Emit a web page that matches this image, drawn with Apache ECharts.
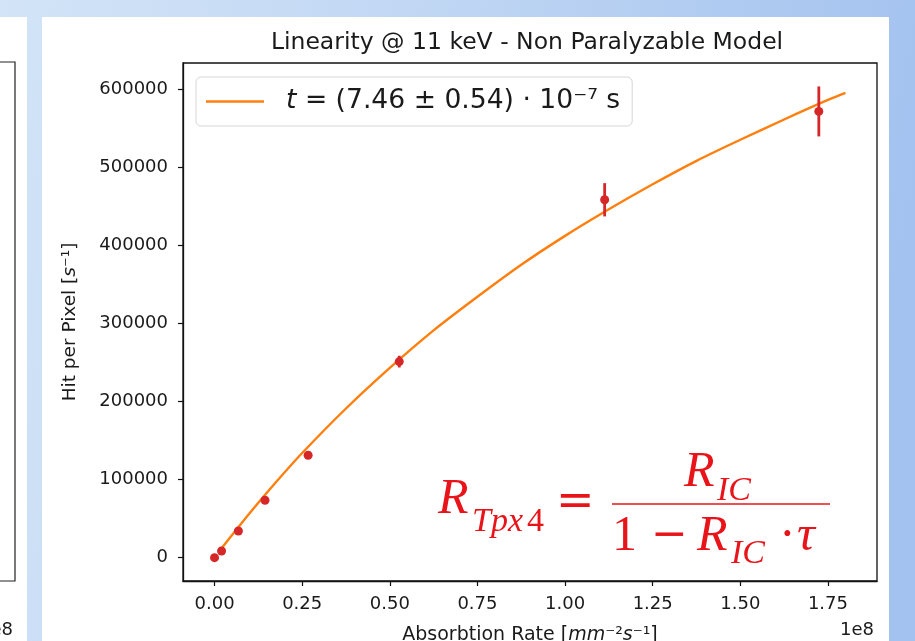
<!DOCTYPE html>
<html><head><meta charset="utf-8">
<script src="https://cdn.jsdelivr.net/npm/echarts@6/dist/echarts.min.js"></script>
<style>
html,body{margin:0;padding:0;width:915px;height:641px;overflow:hidden;background:#b8d0f1;}
#c{width:915px;height:641px;}
</style>
</head><body><div id="c"></div>
<script>
// Tick labels
const xTicks = [0, 0.25, 0.5, 0.75, 1.0, 1.25, 1.5, 1.75];          // ×1e8
const yTicks = [0, 100000, 200000, 300000, 400000, 500000, 600000];
// Measured points (absorption rate in units of 1e8 mm^-2 s^-1)
const absorptionRate = [0.0, 0.020, 0.068, 0.144, 0.267, 0.527, 1.113, 1.724];
const hitRate        = [0, 8600, 34200, 73500, 131200, 251000, 458200, 571300];
const hitErr         = [800, 1200, 2000, 3000, 4500, 7500, 21300, 32000];
// Fit curve
const fitX = [0.02, 0.05, 0.10, 0.175, 0.25, 0.375, 0.50, 0.625, 0.75, 0.875, 1.00, 1.125, 1.25, 1.375, 1.50, 1.625, 1.75, 1.80];
const fitY = [12000, 29000, 57000, 96500, 134000, 191000, 243000, 291000, 334000, 375000, 412000, 446000, 478000, 508000, 535000, 561000, 586000, 595000];
const legendLabel = 't = (7.46 ± 0.54) · 10⁻⁷ s';

const chart = echarts.init(document.getElementById('c'), null, {renderer: 'canvas'});
const FONT = 'DejaVu Sans';
const RED = '#e8141a';
const INK = '#1a1a1a';

const option = {
  animation: false,
  backgroundColor: 'transparent',
  graphic: [
    {type: 'rect', z: -100, shape: {x: 0, y: 0, width: 915, height: 641},
     style: {fill: new echarts.graphic.LinearGradient(0, 0, 1, 0.3, [
       {offset: 0, color: '#d3e4f7'}, {offset: 0.5, color: '#bed5f3'}, {offset: 1, color: '#a3c2ef'}])}},
    {type: 'rect', z: -99, shape: {x: 0, y: 17, width: 27, height: 624}, style: {fill: '#ffffff'}},
    {type: 'rect', z: -99, shape: {x: 42, y: 17, width: 847, height: 624}, style: {fill: '#ffffff'}},
    {type: 'polyline', z: -98, shape: {points: [[0, 62], [15, 62], [15, 581], [0, 581]]},
     style: {stroke: '#222', lineWidth: 1.2, fill: null}},
    {type: 'text', z: 10, x: 13, y: 630, style: {text: '1e8', font: '18px "DejaVu Sans"', fill: INK, textAlign: 'right', textVerticalAlign: 'middle'}},
    {type: 'text', z: 10, x: 527, y: 43, style: {text: 'Linearity @ 11 keV - Non Paralyzable Model', font: '23.5px "DejaVu Sans"', fill: INK, textAlign: 'center', textVerticalAlign: 'middle'}},
    {type: 'text', z: 10, x: 874, y: 630, style: {text: '1e8', font: '18px "DejaVu Sans"', fill: INK, textAlign: 'right', textVerticalAlign: 'middle'}},
    // equation annotation
    {type: 'text', z: 10, x: 438, y: 500, style: {text: 'R', font: 'italic 50px "Liberation Serif"', fill: RED, textVerticalAlign: 'middle'}},
    {type: 'text', z: 10, x: 472, y: 522, style: {text: 'Tpx', font: 'italic 34px "Liberation Serif"', fill: RED, textVerticalAlign: 'middle'}},
    {type: 'text', z: 10, x: 527, y: 522, style: {text: '4', font: '34px "Liberation Serif"', fill: RED, textVerticalAlign: 'middle'}},
    {type: 'text', z: 10, x: 556, y: 503, style: {text: '=', font: '46px "DejaVu Serif"', fill: RED, textVerticalAlign: 'middle'}},
    {type: 'line', z: 10, shape: {x1: 612, y1: 504, x2: 830, y2: 504}, style: {stroke: RED, lineWidth: 1.6}},
    {type: 'text', z: 10, x: 684, y: 473, style: {text: 'R', font: 'italic 50px "Liberation Serif"', fill: RED, textVerticalAlign: 'middle'}},
    {type: 'text', z: 10, x: 717, y: 491, style: {text: 'IC', font: 'italic 34px "Liberation Serif"', fill: RED, textVerticalAlign: 'middle'}},
    {type: 'text', z: 10, x: 612, y: 537, style: {text: '1', font: '50px "Liberation Serif"', fill: RED, textVerticalAlign: 'middle'}},
    {type: 'text', z: 10, x: 651, y: 537, style: {text: '−', font: '44px "DejaVu Serif"', fill: RED, textVerticalAlign: 'middle'}},
    {type: 'text', z: 10, x: 697, y: 537, style: {text: 'R', font: 'italic 50px "Liberation Serif"', fill: RED, textVerticalAlign: 'middle'}},
    {type: 'text', z: 10, x: 731, y: 554, style: {text: 'IC', font: 'italic 34px "Liberation Serif"', fill: RED, textVerticalAlign: 'middle'}},
    {type: 'text', z: 10, x: 779, y: 537, style: {text: '·', font: '50px "Liberation Serif"', fill: RED, textVerticalAlign: 'middle'}},
    {type: 'text', z: 10, x: 797, y: 537, style: {text: 'τ', font: 'italic 50px "Liberation Serif"', fill: RED, textVerticalAlign: 'middle'}}
  ],
  grid: {left: 183, right: 38, top: 63, bottom: 60, show: true, backgroundColor: '#fff',
         borderColor: '#111', borderWidth: 1.3, containLabel: false, outerBoundsMode: 'none'},
  legend: {
    left: 196, top: 77, icon: 'rect', itemWidth: 58, itemHeight: 2.5,
    padding: [11, 12, 11, 10], backgroundColor: '#fff', borderColor: '#d6d6d6', borderWidth: 1, borderRadius: 5,
    data: ['fit'],
    formatter: () => '{p|}{it|t}{n|' + legendLabel.slice(1) + '}',
    textStyle: {fontFamily: FONT, fontSize: 26.6, color: INK,
      rich: {p: {width: 17}, it: {fontStyle: 'italic', fontFamily: FONT, fontSize: 26.6, color: INK},
             n: {fontFamily: FONT, fontSize: 26.6, color: INK}}}
  },
  xAxis: {
    type: 'value', min: -0.09, max: 1.89,
    name: '{n|Absorbtion Rate [}{i|mm}{n|⁻²}{i|s}{n|⁻¹]}', nameLocation: 'middle', nameGap: 45,
    nameTextStyle: {fontFamily: FONT, fontSize: 19, color: INK,
      rich: {n: {fontFamily: FONT, fontSize: 19, color: INK}, i: {fontFamily: FONT, fontStyle: 'italic', fontSize: 19, color: INK}}},
    axisLine: {show: true, onZero: false, lineStyle: {color: '#111', width: 1.3}},
    axisTick: {show: true, length: 5, customValues: xTicks, lineStyle: {color: '#111', width: 1.2}},
    axisLabel: {customValues: xTicks, formatter: v => v.toFixed(2), fontFamily: FONT, fontSize: 18, color: INK, margin: 14},
    splitLine: {show: false}
  },
  yAxis: {
    type: 'value', min: -29850, max: 633300,
    name: '{n|Hit per Pixel [}{i|s}{n|⁻¹]}', nameLocation: 'middle', nameGap: 103,
    nameTextStyle: {fontFamily: FONT, fontSize: 18.5, color: INK,
      rich: {n: {fontFamily: FONT, fontSize: 18.5, color: INK}, i: {fontFamily: FONT, fontStyle: 'italic', fontSize: 18.5, color: INK}}},
    axisLine: {show: true, onZero: false, lineStyle: {color: '#111', width: 1.3}},
    axisTick: {show: true, length: 5, customValues: yTicks, lineStyle: {color: '#111', width: 1.2}},
    axisLabel: {customValues: yTicks, formatter: v => String(v), fontFamily: FONT, fontSize: 18, color: INK, margin: 15},
    splitLine: {show: false}
  },
  series: [
    {name: 'fit', type: 'line', data: fitX.map((x, i) => [x, fitY[i]]), smooth: 0.3, showSymbol: false,
     lineStyle: {color: '#ff7f0e', width: 2.4}, itemStyle: {color: '#ff7f0e'}, z: 2},
    {name: 'errors', type: 'custom', z: 3,
     data: absorptionRate.map((x, i) => [x, hitRate[i], hitErr[i]]),
     renderItem: (params, api) => {
       const x = api.value(0), y = api.value(1), e = api.value(2);
       const p1 = api.coord([x, y - e]), p2 = api.coord([x, y + e]);
       return {type: 'line', shape: {x1: p1[0], y1: p1[1], x2: p2[0], y2: p2[1]},
               style: {stroke: '#d62728', lineWidth: 2.8}};
     }},
    {name: 'data', type: 'scatter', data: absorptionRate.map((x, i) => [x, hitRate[i]]),
     symbolSize: 9, itemStyle: {color: '#d62728', opacity: 1}, z: 4}
  ]
};
chart.setOption(option);
</script>
</body></html>
